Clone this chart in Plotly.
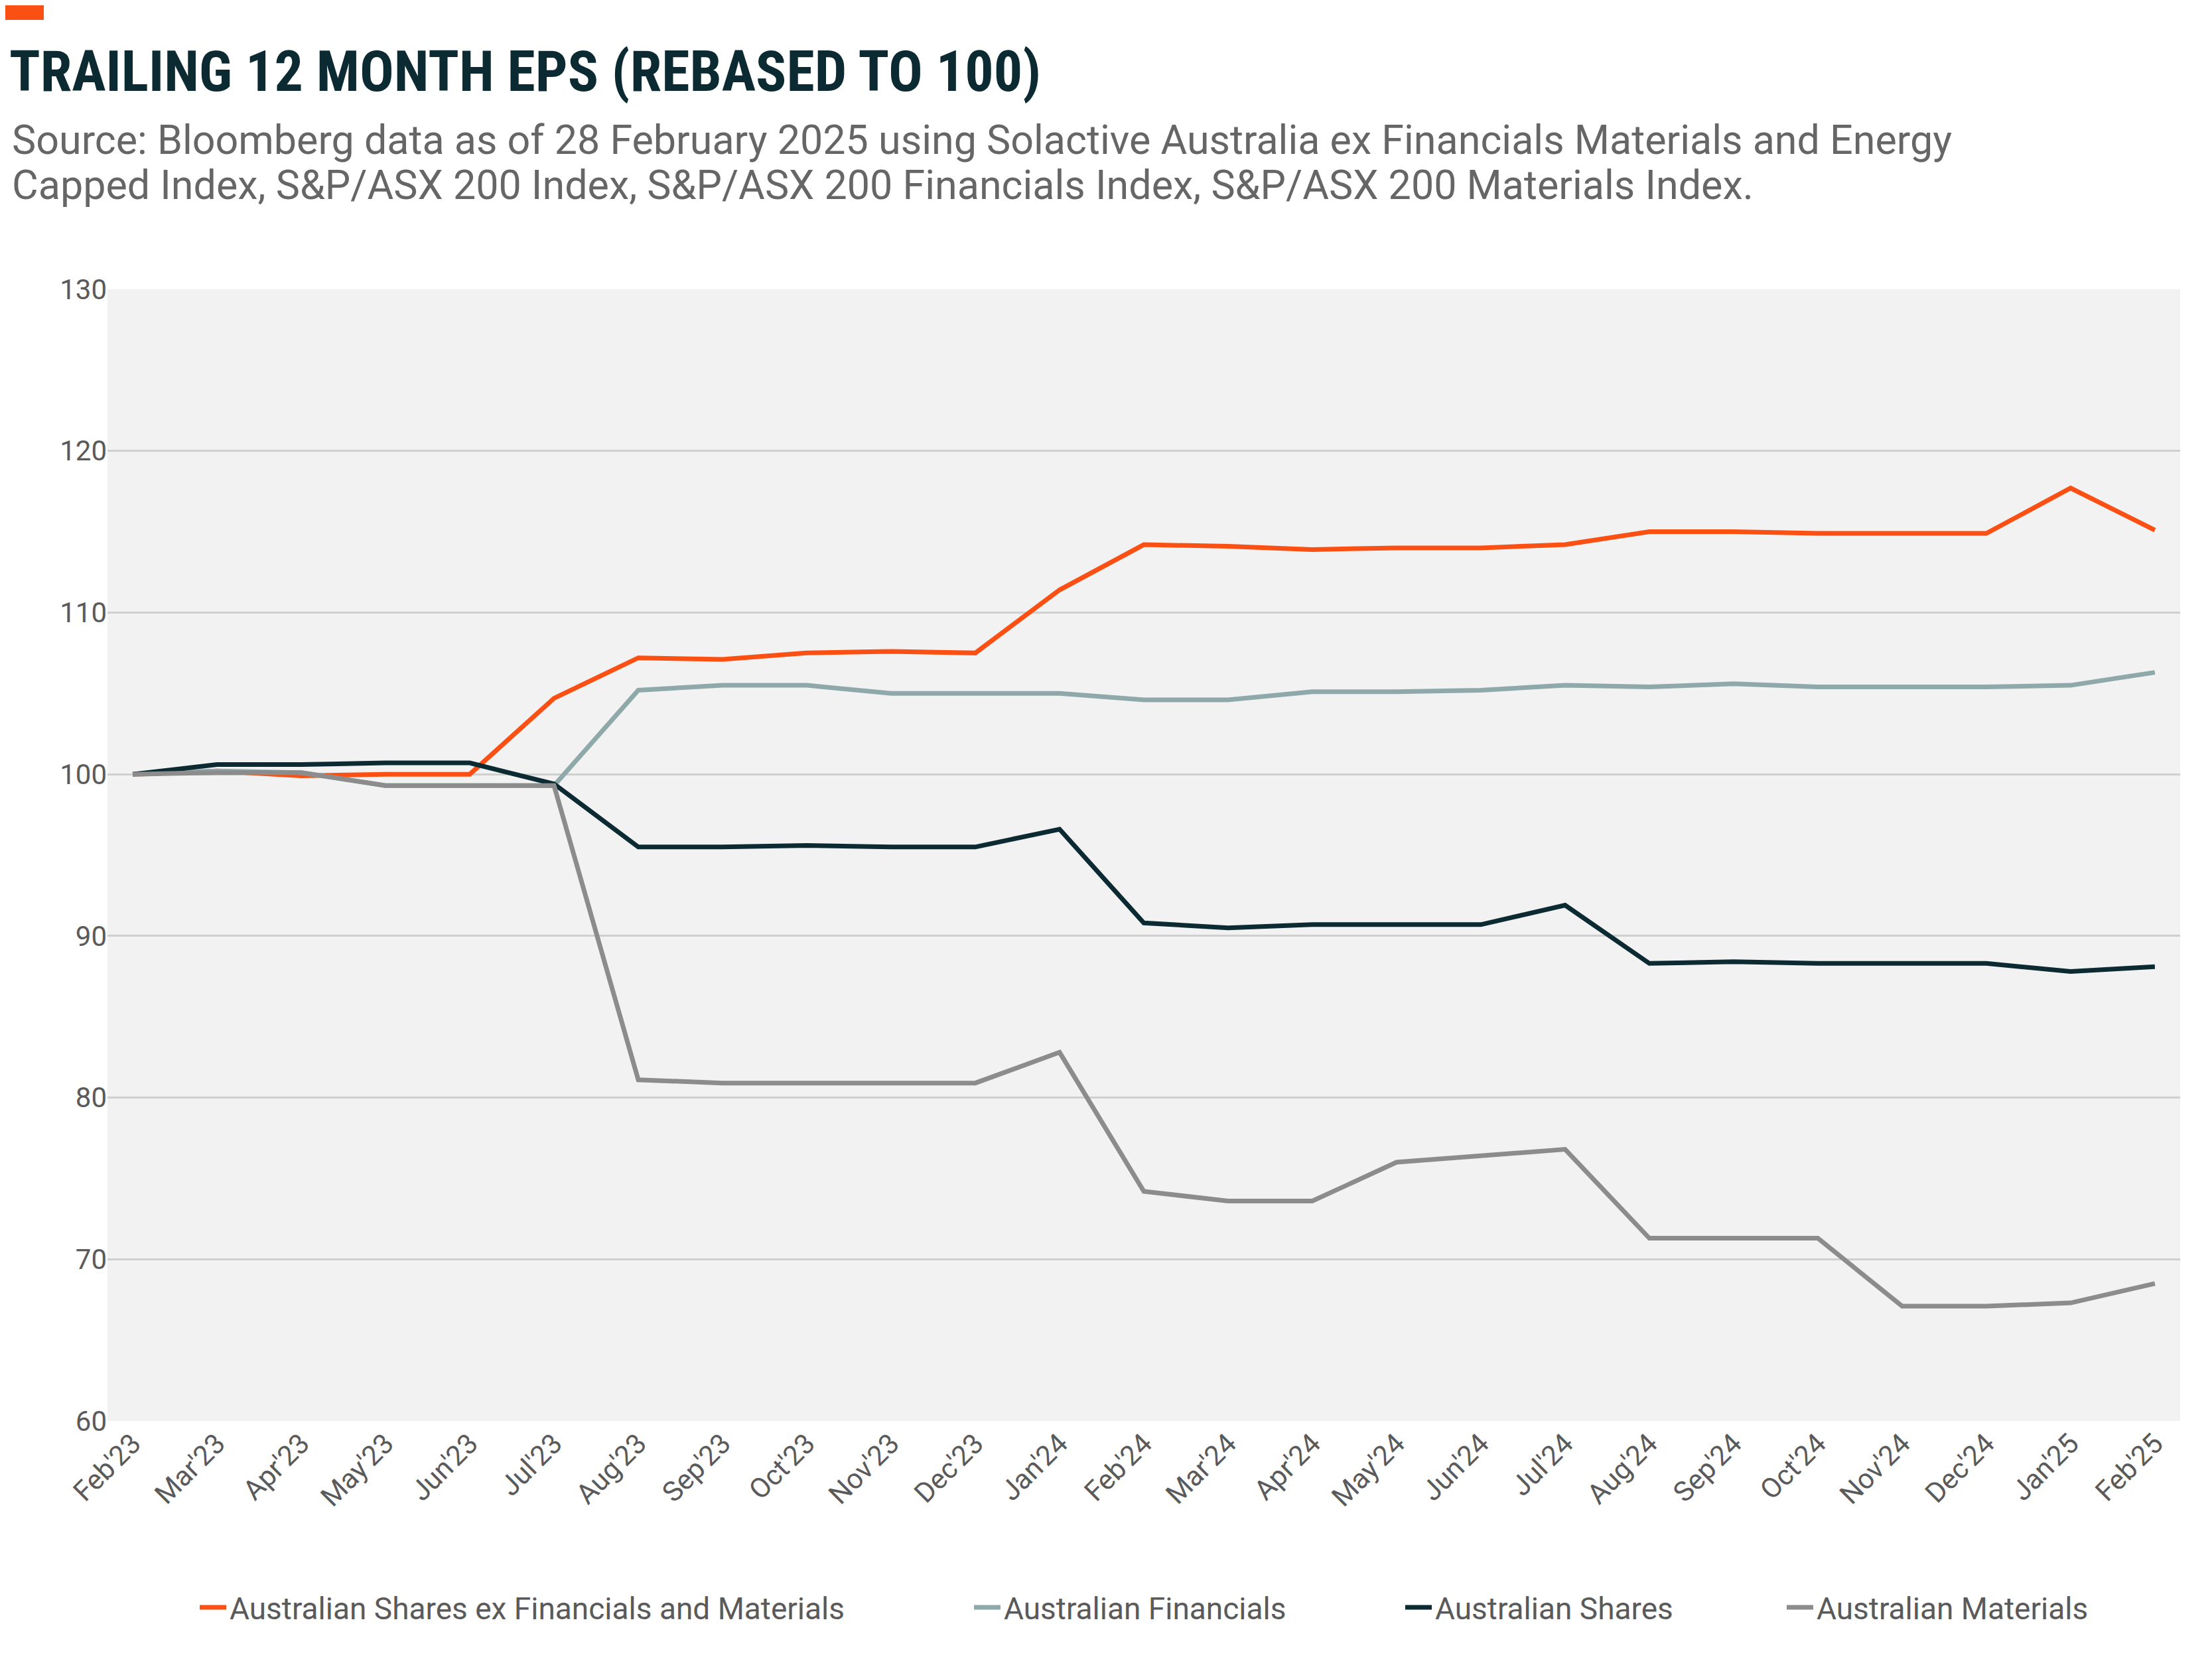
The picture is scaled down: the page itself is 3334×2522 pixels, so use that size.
import plotly.graph_objects as go

months = ["Feb'23","Mar'23","Apr'23","May'23","Jun'23","Jul'23","Aug'23","Sep'23","Oct'23","Nov'23","Dec'23",
          "Jan'24","Feb'24","Mar'24","Apr'24","May'24","Jun'24","Jul'24","Aug'24","Sep'24","Oct'24","Nov'24","Dec'24",
          "Jan'25","Feb'25"]
ex_fin_mat = [100,100.2,99.9,100,100,104.7,107.2,107.1,107.5,107.6,107.5,111.4,114.2,114.1,113.9,114.0,114.0,114.2,115.0,115.0,114.9,114.9,114.9,117.7,115.1]
financials = [100,100.2,100.1,99.3,99.3,99.3,105.2,105.5,105.5,105.0,105.0,105.0,104.6,104.6,105.1,105.1,105.2,105.5,105.4,105.6,105.4,105.4,105.4,105.5,106.3]
shares = [100,100.6,100.6,100.7,100.7,99.4,95.5,95.5,95.6,95.5,95.5,96.6,90.8,90.5,90.7,90.7,90.7,91.9,88.3,88.4,88.3,88.3,88.3,87.8,88.1]
materials = [100,100.1,100.1,99.3,99.3,99.3,81.1,80.9,80.9,80.9,80.9,82.8,74.2,73.6,73.6,76.0,76.4,76.8,71.3,71.3,71.3,67.1,67.1,67.3,68.5]

series = [("Australian Shares ex Financials and Materials", ex_fin_mat, "#FA5014"),
          ("Australian Financials", financials, "#8FA9AA"),
          ("Australian Shares", shares, "#0C2A32"),
          ("Australian Materials", materials, "#8C8C8C")]

W, H = 3334, 2522
L, R, T, B = 154, 56, 428, 388
PW, PH = W - L - R, H - T - B

def px(x):
    return (x - L) / PW

def py(y):
    return 1 + (T - y) / PH

legend_x = [288, 1455, 2105, 2680]
legend_names = ["legend", "legend2", "legend3", "legend4"]

fig = go.Figure()
for (name, vals, col), lg in zip(series, legend_names):
    fig.add_trace(go.Scatter(x=months, y=vals, name=name, mode="lines", legend=lg,
                             line=dict(color=col, width=7)))

layout_legends = {}
for lg, lx in zip(legend_names, legend_x):
    layout_legends[lg] = dict(x=px(lx), xanchor="left", y=py(2415), yanchor="middle",
                              font=dict(size=46, color="#5a5a5a"), itemwidth=40,
                              bgcolor="rgba(0,0,0,0)")

font = "Roboto"
fig.update_layout(
    width=W, height=H,
    paper_bgcolor="white", plot_bgcolor="#F2F2F2",
    margin=dict(l=L, r=R, t=T, b=B),
    font=dict(family=font, color="#5a5a5a", size=42),
    showlegend=True,
    xaxis=dict(tickangle=-45, showgrid=False, range=[-0.3, 24.3], tickfont=dict(size=42),
               ticks="", zeroline=False),
    yaxis=dict(range=[60, 130], dtick=10, gridcolor="#CFCFCF", gridwidth=3,
               tickfont=dict(size=42), zeroline=False, ticks="", ticklen=0),
    annotations=[
        dict(text="<b>TRAILING 12 MONTH EPS (REBASED TO 100)</b>", xref="paper", yref="paper",
             x=px(4), y=py(100), xanchor="left", yanchor="middle", showarrow=False,
             font=dict(family="Roboto Condensed, Roboto", size=86, color="#0C2A32")),
        dict(text="Source: Bloomberg data as of 28 February 2025 using Solactive Australia ex Financials Materials and Energy",
             xref="paper", yref="paper", x=px(8), y=py(203), xanchor="left", yanchor="middle",
             showarrow=False, font=dict(size=61, color="#666666")),
        dict(text="Capped Index, S&P/ASX 200 Index, S&P/ASX 200 Financials Index, S&P/ASX 200 Materials Index.",
             xref="paper", yref="paper", x=px(8), y=py(271), xanchor="left", yanchor="middle",
             showarrow=False, font=dict(size=61, color="#666666")),
    ],
    shapes=[dict(type="rect", xref="paper", yref="paper", x0=px(0), x1=px(58), y0=py(0), y1=py(22),
                 line=dict(width=0), fillcolor="#FA5014")],
    **layout_legends,
)
fig.write_html("out.html")
